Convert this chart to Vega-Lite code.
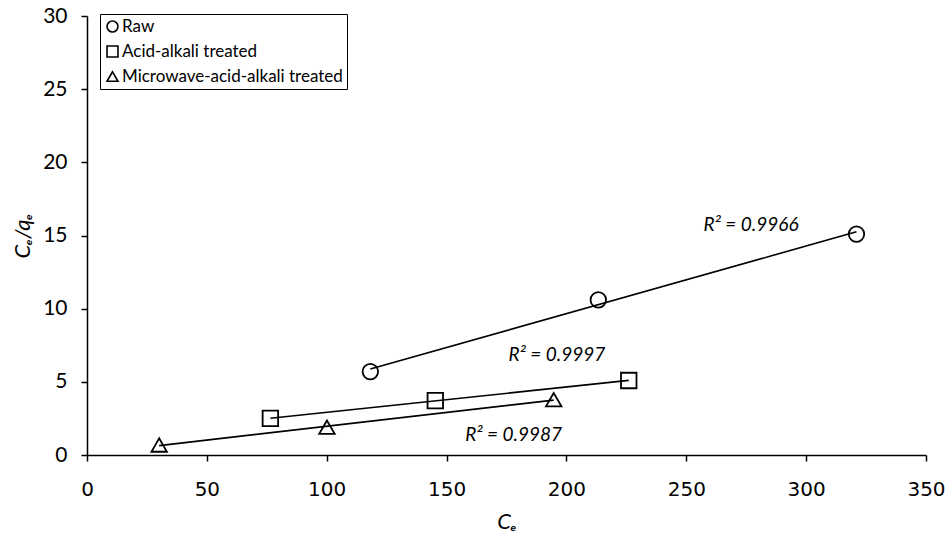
{
  "$schema": "https://vega.github.io/schema/vega-lite/v6.json",
  "width": 839,
  "height": 439,
  "autosize": {"type": "none"},
  "padding": {"left": 87, "top": 16, "right": 26, "bottom": 82},
  "background": "white",
  "config": {
    "view": {"stroke": null},
    "axis": {
      "grid": false,
      "labelFlush": false,
      "domainColor": "black",
      "domainWidth": 1.5,
      "tickColor": "black",
      "tickWidth": 1.5,
      "tickSize": 6,
      "labelColor": "black",
      "titleColor": "black"
    }
  },
  "datasets": {
    "points": [
      {"sample": "Raw", "ce": 118.2, "ce_qe": 5.7},
      {"sample": "Raw", "ce": 213.3, "ce_qe": 10.6},
      {"sample": "Raw", "ce": 321.0, "ce_qe": 15.1},
      {"sample": "Acid-alkali treated", "ce": 76.5, "ce_qe": 2.5},
      {"sample": "Acid-alkali treated", "ce": 145.3, "ce_qe": 3.72},
      {"sample": "Acid-alkali treated", "ce": 226.0, "ce_qe": 5.09},
      {"sample": "Microwave-acid-alkali treated", "ce": 30.1, "ce_qe": 0.68},
      {"sample": "Microwave-acid-alkali treated", "ce": 100.1, "ce_qe": 1.9},
      {"sample": "Microwave-acid-alkali treated", "ce": 194.7, "ce_qe": 3.78}
    ],
    "fits": [
      {"sample": "Raw", "label": "R² = 0.9966", "ce": 277, "ce_qe": 15.75},
      {"sample": "Acid-alkali treated", "label": "R² = 0.9997", "ce": 196, "ce_qe": 6.85},
      {"sample": "Microwave-acid-alkali treated", "label": "R² = 0.9987", "ce": 178, "ce_qe": 1.37}
    ]
  },
  "layer": [
    {
      "data": {"name": "points"},
      "transform": [
        {"regression": "ce_qe", "on": "ce", "groupby": ["sample"]}
      ],
      "mark": {"type": "line", "color": "black", "strokeWidth": 1.6},
      "encoding": {
        "x": {"field": "ce", "type": "quantitative"},
        "y": {"field": "ce_qe", "type": "quantitative"},
        "detail": {"field": "sample"}
      }
    },
    {
      "data": {"name": "points"},
      "mark": {"type": "point", "filled": false, "stroke": "black", "strokeWidth": 1.8, "size": 240, "opacity": 1},
      "encoding": {
        "x": {
          "field": "ce",
          "type": "quantitative",
          "scale": {"domain": [0, 350], "nice": false},
          "axis": {
            "values": [0, 50, 100, 150, 200, 250, 300, 350],
            "labelFont": "DejaVu Sans",
            "labelFontSize": 20,
            "labelPadding": 18,
            "title": "Cₑ",
            "titleFont": "Lato",
            "titleFontStyle": "italic",
            "titleFontWeight": "normal",
            "titleFontSize": 22,
            "titlePadding": 12
          }
        },
        "y": {
          "field": "ce_qe",
          "type": "quantitative",
          "scale": {"domain": [0, 30], "nice": false},
          "axis": {
            "values": [0, 5, 10, 15, 20, 25, 30],
            "labelFont": "Lato",
            "labelFontSize": 21,
            "labelPadding": 14,
            "title": "Cₑ/qₑ",
            "titleFont": "Lato",
            "titleFontStyle": "italic",
            "titleFontWeight": "normal",
            "titleFontSize": 22,
            "titlePadding": 8
          }
        },
        "shape": {
          "field": "sample",
          "type": "nominal",
          "scale": {
            "domain": ["Raw", "Acid-alkali treated", "Microwave-acid-alkali treated"],
            "range": ["circle", "square", "triangle-up"]
          },
          "legend": {
            "title": null,
            "orient": "none",
            "legendX": 13,
            "legendY": -2,
            "strokeColor": "black",
            "fillColor": "white",
            "padding": 4,
            "rowPadding": 6,
            "symbolSize": 120,
            "symbolStrokeWidth": 1.6,
            "symbolStrokeColor": "black",
            "symbolFillColor": "transparent",
            "labelFont": "Lato",
            "labelFontSize": 17,
            "labelColor": "black",
            "labelOffset": 1,
            "labelLimit": 400
          }
        }
      }
    },
    {
      "data": {"name": "fits"},
      "mark": {"type": "text", "font": "Lato", "fontStyle": "italic", "fontSize": 19, "color": "black"},
      "encoding": {
        "x": {"field": "ce", "type": "quantitative"},
        "y": {"field": "ce_qe", "type": "quantitative"},
        "text": {"field": "label"}
      }
    }
  ]
}
